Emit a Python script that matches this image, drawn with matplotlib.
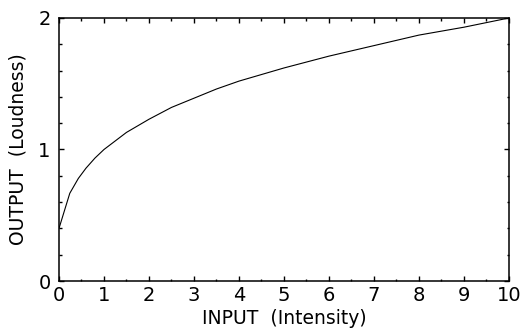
import matplotlib
matplotlib.use("Agg")
import matplotlib.pyplot as plt
from matplotlib.ticker import MultipleLocator

# Loudness response curve (read-off samples)
intensity = [0.0, 0.24, 0.43, 0.6, 0.8, 1.0, 1.5, 2.0, 2.5, 3.0, 3.5, 4.0,
             5.0, 6.0, 7.0, 8.0, 9.0, 10.0]
loudness = [0.40, 0.667, 0.78, 0.858, 0.935, 1.00, 1.13, 1.23, 1.32, 1.39,
            1.46, 1.52, 1.62, 1.71, 1.79, 1.87, 1.93, 2.00]

x_label = "INPUT  (Intensity)"
y_label = "OUTPUT  (Loudness)"

plt.rcParams["font.family"] = ["DejaVu Sans"]

fig = plt.figure(figsize=(5.22, 3.32), dpi=100)
ax = fig.add_axes([0.113, 0.1536, 0.862, 0.7922])

ax.plot(intensity, loudness, color="black", linewidth=0.8)

ax.set_xlim(0, 10)
ax.set_ylim(0, 2)
ax.xaxis.set_major_locator(MultipleLocator(1))
ax.xaxis.set_minor_locator(MultipleLocator(0.5))
ax.yaxis.set_major_locator(MultipleLocator(1))
ax.yaxis.set_minor_locator(MultipleLocator(0.2))

ax.tick_params(which="both", direction="in", top=True, right=True,
               width=1.0, colors="black", labelsize=14)
ax.tick_params(which="major", length=3.6, pad=3.5)
ax.tick_params(which="minor", length=1.8)
ax.tick_params(axis="y", which="major", pad=6)

for s in ax.spines.values():
    s.set_linewidth(1.1)

ax.set_xlabel(x_label, fontsize=13.5, labelpad=3)
ax.set_ylabel(y_label, fontsize=13.5, labelpad=8)

fig.savefig("out.png", dpi=100)
